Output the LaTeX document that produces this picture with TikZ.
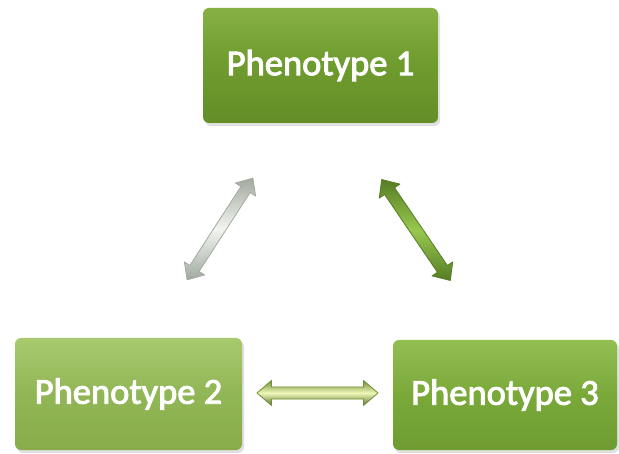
\documentclass[tikz,border=0pt]{standalone}
\usepackage{fontspec}
\setmainfont{Carlito}
\newfontfamily\phfont{Carlito}[BoldFont=Carlito, BoldFeatures={FakeBold=2.5}]
\usetikzlibrary{shadows}
\definecolor{pa}{HTML}{6E9B2E}
\definecolor{paT}{HTML}{86B043}
\definecolor{paB}{HTML}{648E28}
\definecolor{pb}{HTML}{91B655}
\definecolor{pbT}{HTML}{A8CA6E}
\definecolor{pbB}{HTML}{88AC4A}
\definecolor{pc}{HTML}{7AA93A}
\definecolor{pcT}{HTML}{92BE52}
\definecolor{pcB}{HTML}{6E9C32}
\definecolor{grayL}{HTML}{F2F4F0}
\definecolor{grayD}{HTML}{A2AAA0}
\definecolor{grnL}{HTML}{98C84E}
\definecolor{grnD}{HTML}{557C24}
\definecolor{ylwL}{HTML}{EEF8B8}
\definecolor{ylwD}{HTML}{728F36}
\tikzset{
  phbox/.style={rounded corners=6pt, minimum height=#1, text=white,
    font=\phfont\bfseries\fontsize{36.5}{40}\selectfont, inner sep=0pt,
    drop shadow={opacity=0.25, shadow xshift=2pt, shadow yshift=-3pt}},
  arrbody/.style={line width=0.8pt, line join=round}
}
\begin{document}
\begin{tikzpicture}[x=1pt,y=1pt]
\useasboundingbox (0,0) rectangle (619,453);
\fill[white] (0,0) rectangle (619,453);
% boxes
\node[phbox=115pt, minimum width=235pt, top color=paT, bottom color=paB, middle color=pa] (p1) at (320.5,387.5) {Phenotype 1};
\node[phbox=112pt, minimum width=227pt, top color=pbT, bottom color=pbB, middle color=pb] (p2) at (128.5,59) {Phenotype 2};
\node[phbox=110pt, minimum width=224pt, top color=pcT, bottom color=pcB, middle color=pc] (p3) at (505,58) {Phenotype 3};
% arrows (double-headed)
\coordinate (a12) at (220,224);
\coordinate (a13) at (416,223);
\coordinate (a23) at (317.5,60);
\begin{scope}[shift={(a12)}, rotate=57.1]
  \draw[arrbody, draw=grayD, top color=grayD, bottom color=grayD, middle color=grayL]
    (-60.5,0) -- (-47,12) -- (-47,5.5) -- (47,5.5) -- (47,12) -- (60.5,0)
    -- (47,-12) -- (47,-5.5) -- (-47,-5.5) -- (-47,-12) -- cycle;
\end{scope}
\begin{scope}[shift={(a13)}, rotate=-55.8]
  \draw[arrbody, draw=grnD, top color=grnD, bottom color=grnD, middle color=grnL]
    (-61,0) -- (-47,12.5) -- (-47,6) -- (47,6) -- (47,12.5) -- (61,0)
    -- (47,-12.5) -- (47,-6) -- (-47,-6) -- (-47,-12.5) -- cycle;
\end{scope}
\begin{scope}[shift={(a23)}]
  \draw[arrbody, draw=ylwD, top color=ylwD, bottom color=ylwD!80!black, middle color=ylwL]
    (-60.5,0) -- (-46,12.5) -- (-46,6) -- (46,6) -- (46,12.5) -- (60.5,0)
    -- (46,-12.5) -- (46,-6) -- (-46,-6) -- (-46,-12.5) -- cycle;
\end{scope}
\end{tikzpicture}
\end{document}
